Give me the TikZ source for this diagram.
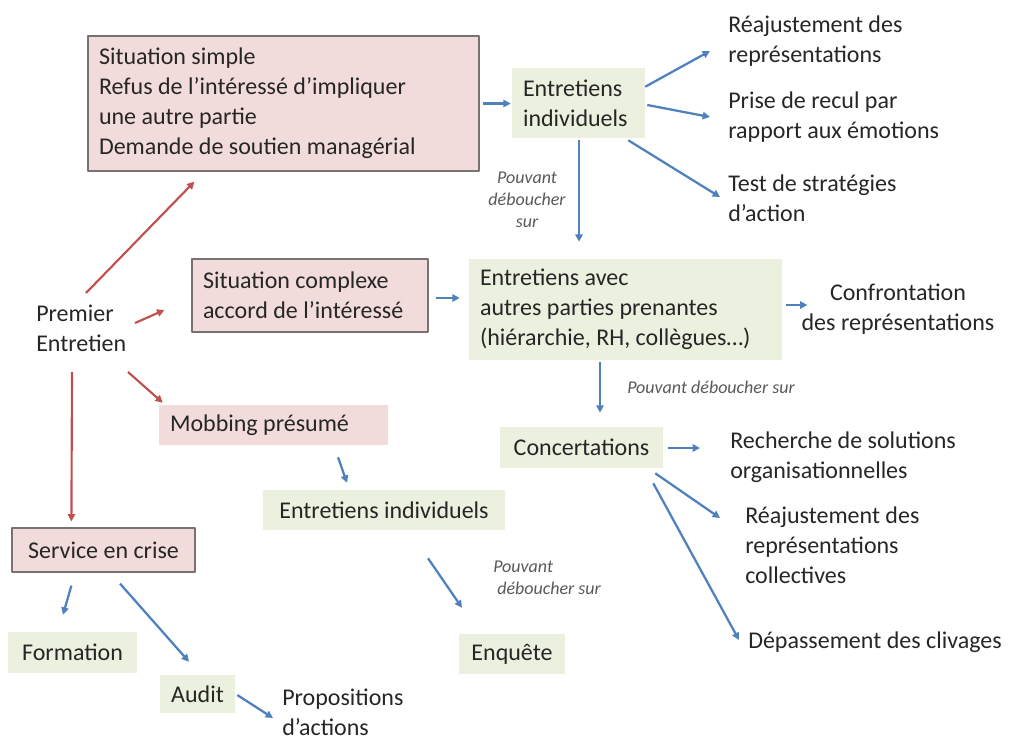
\documentclass[tikz,border=0pt]{standalone}
\usepackage{fontspec}
\setmainfont{Carlito}
\usepackage{tikz}
\usetikzlibrary{arrows.meta,positioning,calc}
\definecolor{pinkbg}{HTML}{F2DCDB}
\definecolor{greenbg}{HTML}{EBF1DE}
\definecolor{boxline}{HTML}{7A7272}
\definecolor{arrowblue}{HTML}{4F81BD}
\definecolor{arrowred}{HTML}{C0504D}
\definecolor{txtgray}{HTML}{262626}
\definecolor{notegray}{HTML}{595959}
\tikzset{
  redbox/.style={draw=boxline, line width=0.9pt, fill=pinkbg, inner xsep=8.25pt, inner ysep=0pt, align=flush left},
  pinkbox/.style={fill=pinkbg, inner xsep=8.25pt, inner ysep=0pt, align=flush left},
  greenbox/.style={fill=greenbg, inner xsep=8.25pt, inner ysep=0pt, align=flush left},
  plain/.style={inner sep=0pt, align=left, anchor=west},
  note/.style={inner sep=0pt, text=notegray, font=\itshape\fontsize{13.5}{16.5}\selectfont},
  bluearrow/.style={draw=arrowblue, line width=1.7pt, -{Triangle[length=5.5pt,width=5.5pt]}},
  redarrow/.style={draw=arrowred, line width=1.6pt, -{Triangle[length=5.5pt,width=5.5pt]}}
}

\begin{document}
\begin{tikzpicture}[x=0.75pt, y=-0.75pt, line join=round, text=txtgray, font=\fontsize{18}{22.5}\selectfont]
\useasboundingbox (0,0) rectangle (1022,740);
% left column
\node[plain] (premier) at (36,328) {Premier\\Entretien};
\node[redbox, text width=276.75pt, minimum height=101.25pt] (sitsimple) at (283.5,103.5)
  {Situation simple\\Refus de l’intéressé d’impliquer\\une autre partie\\Demande de soutien managérial};
\node[redbox, text width=160.5pt, minimum height=54.75pt] (sitcomplexe) at (310,295.5)
  {Situation complexe\\accord de l’intéressé};
\node[pinkbox, text width=155.25pt, minimum height=30pt] (mobbing) at (273.5,425) {Mobbing présumé};
\node[redbox, align=center, minimum width=137.25pt, minimum height=33pt] (service) at (103.5,550) {Service en crise};
\node[greenbox, align=center, minimum width=96.75pt, minimum height=30.75pt] (formation) at (72.5,652.5) {Formation};
\node[greenbox, align=center, minimum width=56.25pt, minimum height=28.5pt] (audit) at (197.5,694) {Audit};
\node[plain] (prop) at (282,712.5) {Propositions\\d’actions};
% middle column
\node[greenbox, text width=83.25pt, minimum height=52.5pt] (entind) at (578.5,103) {Entretiens\\individuels};
\node[greenbox, text width=218.25pt, minimum height=75.75pt] (entavec) at (625.5,309.5)
  {Entretiens avec\\autres parties prenantes\\(hiérarchie, RH, collègues…)};
\node[greenbox, align=center, minimum width=122.25pt, minimum height=30.75pt] (conc) at (581.5,447.5) {Concertations};
\node[greenbox, align=center, minimum width=181.5pt, minimum height=30pt] (entind2) at (384,510) {Entretiens individuels};
\node[greenbox, align=center, minimum width=79.5pt, minimum height=30pt] (enquete) at (512,654) {Enquête};
\node[note, align=center] (pv1) at (527,200) {Pouvant\\déboucher\\sur};
\node[note, align=left, anchor=west] (pv2) at (627,387) {Pouvant déboucher sur};
\node[note, align=left, anchor=west] (pv3) at (493,578) {Pouvant\\\hspace*{3pt}déboucher sur};
% right column
\node[plain] (reaj1) at (728,41)  {Réajustement des\\représentations};
\node[plain] (recul) at (728,117) {Prise de recul par\\rapport aux émotions};
\node[plain] (test)  at (728,198) {Test de stratégies\\d’action};
\node[inner sep=0pt, align=center] (confr) at (898,309) {Confrontation\\des représentations};
\node[plain] (rech)  at (730,457) {Recherche de solutions\\organisationnelles};
\node[plain] (reaj2) at (745,545) {Réajustement des\\représentations\\collectives};
\node[plain] (depas) at (748,642) {Dépassement des clivages};
% red arrows
\draw[redarrow] ($(premier.west)+(50,-35)$) -- ($(sitsimple.south west)+(107,10)$);
\draw[redarrow] ($(premier.west)+(99,-5)$)  -- ($(sitcomplexe.west)+(-27,14.5)$);
\draw[redarrow] ($(premier.west)+(92,44)$)  -- ($(mobbing.north west)+(4,-2)$);
\draw[redarrow] ($(premier.west)+(36,44)$)  -- ($(service.north west)+(60,-6)$);
% blue arrows
\draw[bluearrow] ($(sitsimple.east)+(3,0)$) -- ($(sitsimple.east -| entind.west)+(-1,0)$);
\draw[bluearrow] ($(entind.north east)+(0,19)$) -- ($(reaj1.west)+(-18,10)$);
\draw[bluearrow] ($(entind.east)+(2,2)$) -- ($(recul.west)+(-18,0)$);
\draw[bluearrow] ($(entind.south east)+(-17,2)$) -- ($(test.west)+(-8,-1)$);
\draw[bluearrow] ($(entind.south)+(0.5,2)$) -- ($(entind.south |- entavec.north)+(0.5,-17)$);
\draw[bluearrow] ($(sitcomplexe.east)+(7,2.5)$) -- ($(sitcomplexe.east -| entavec.west)+(-9,2.5)$);
\draw[bluearrow] ($(entavec.east)+(4,-4.5)$) -- ($(confr.west)+(6,-4)$);
\draw[bluearrow] ($(entavec.south)+(-25.5,2)$) -- ($(conc.north)+(18.5,-14)$);
\draw[bluearrow] ($(conc.east)+(5,0.5)$) -- ($(conc.east -| rech.west)+(-30,0.5)$);
\draw[bluearrow] ($(conc.south east)+(-8,5)$) -- ($(reaj2.west)+(-25,-27)$);
\draw[bluearrow] ($(conc.south east)+(-10,15)$) -- ($(depas.west)+(-9,-2)$);
\draw[bluearrow] ($(mobbing.south)+(64.5,12)$) -- ($(entind2.north)+(-37,-7)$);
\draw[bluearrow] ($(entind2.south)+(44,28)$) -- ($(enquete.north)+(-50,-26)$);
\draw[bluearrow] ($(service.south west)+(60,13)$) -- ($(formation.north)+(-9.5,-17)$);
\draw[bluearrow] ($(service.south)+(16.5,11)$) -- ($(audit.north)+(-8.5,-13)$);
\draw[bluearrow] ($(audit.east)+(2,1)$) -- ($(prop.west)+(-9,5.5)$);
\end{tikzpicture}
\end{document}
